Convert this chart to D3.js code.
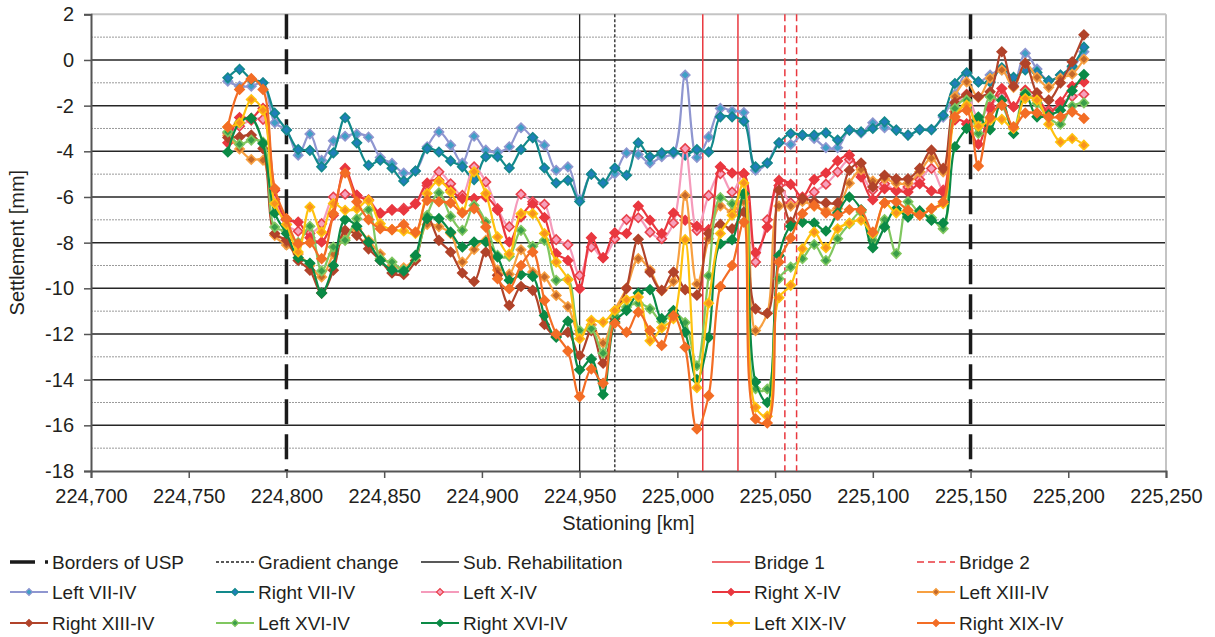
<!DOCTYPE html>
<html>
<head>
<meta charset="utf-8">
<style>
  body { margin: 0; background: #fff; }
  svg text { font-family: "Liberation Sans", Arial, sans-serif; fill: #231f20; }
</style>
</head>
<body>
<svg id="chart" width="1215" height="637"></svg>
<script src="https://d3js.org/d3.v7.min.js"></script>
<script>
// stationing of the measuring points [m]
var stations = [224770,224776,224782,224788,224794,224800,224806,224812,224818,224824,
  224830,224836,224842,224848,224854,224860,224866,224872,224878,224884,
  224890,224896,224902,224908,224914,224920,224926,224932,224938,224944,
  224950,224956,224962,224968,224974,224980,224986,224992,224998,225004,
  225010,225016,225022,225028,225034,225040,225046,225052,225058,225064,
  225070,225076,225082,225088,225094,225100,225106,225112,225118,225124,
  225130,225136,225142,225148,225154,225160,225166,225172,225178,225184,
  225190,225196,225202,225208];

var leftVII = [-0.93,-1.15,-1.15,-1.0,-2.75,-3.07,-4.17,-3.24,-4.39,-3.54,
  -3.34,-3.24,-3.38,-4.27,-4.53,-4.95,-4.86,-3.8,-3.15,-3.73,
  -4.51,-3.34,-3.95,-4.03,-3.8,-2.97,-3.4,-3.73,-4.83,-4.68,
  -6.1,-5.0,-5.39,-4.98,-4.07,-4.14,-4.51,-4.24,-4.1,-0.66,
  -4.27,-3.37,-2.12,-2.24,-2.3,-4.83,-4.51,-3.63,-3.7,-3.29,
  -3.44,-3.84,-3.84,-3.07,-3.2,-2.75,-2.97,-3.07,-3.29,-3.05,
  -3.05,-2.5,-1.5,-0.6,-0.96,-0.66,-0.44,-1.03,0.29,-0.4,
  -0.91,-0.66,-0.35,0.36];
var rightVII = [-0.78,-0.41,-0.85,-1.0,-2.33,-3.07,-3.92,-3.96,-4.68,-4.07,
  -2.53,-3.63,-4.61,-4.39,-4.74,-5.3,-4.86,-3.88,-4.03,-4.42,
  -4.68,-5.24,-4.24,-4.24,-4.73,-3.92,-3.4,-4.73,-5.39,-5.27,
  -6.2,-5.0,-5.39,-4.73,-5.05,-3.63,-4.24,-4.07,-4.03,-4.17,
  -3.92,-4.03,-2.49,-2.49,-2.68,-4.68,-4.51,-3.63,-3.22,-3.29,
  -3.29,-3.19,-3.51,-3.07,-3.15,-3.0,-2.71,-3.07,-3.29,-3.05,
  -3.05,-2.42,-1.03,-0.56,-0.96,-0.96,-0.34,-0.76,-0.44,-0.55,
  -0.91,-0.66,-0.27,0.56];
var leftX = [-3.2,-2.9,-2.64,-2.6,-6.1,-7.2,-7.5,-7.6,-7.17,-6.0,
  -5.88,-5.93,-6.12,-6.7,-6.55,-6.5,-6.3,-5.5,-4.9,-5.42,
  -5.93,-4.68,-5.34,-6.51,-7.3,-5.88,-6.21,-6.32,-7.87,-8.09,
  -9.44,-8.19,-8.66,-7.83,-6.99,-6.91,-7.54,-7.83,-7.14,-3.88,
  -7.46,-5.93,-4.98,-5.78,-4.98,-8.85,-7.0,-5.5,-6.26,-6.15,
  -5.78,-5.44,-4.9,-4.36,-4.98,-5.7,-5.42,-5.74,-5.56,-5.24,
  -4.75,-5.7,-2.27,-1.5,-2.56,-2.02,-1.58,-2.05,-1.5,-1.7,
  -2.2,-1.9,-1.6,-1.5];
var rightX = [-3.63,-2.52,-2.56,-2.12,-5.7,-7.0,-7.1,-7.78,-7.97,-6.8,
  -4.75,-5.93,-6.15,-6.73,-6.58,-6.58,-6.29,-5.39,-5.27,-5.7,
  -6.07,-6.07,-6.0,-6.58,-7.97,-6.87,-6.32,-6.9,-8.48,-8.78,
  -10.02,-7.78,-8.66,-7.57,-7.6,-6.4,-7.02,-7.6,-6.7,-7.02,
  -7.28,-7.43,-4.68,-4.95,-4.98,-8.44,-7.32,-5.27,-5.45,-6.0,
  -5.24,-4.95,-4.42,-4.17,-5.12,-6.12,-5.64,-5.7,-5.78,-5.42,
  -5.74,-5.78,-2.63,-2.8,-3.69,-2.12,-1.25,-2.05,-1.32,-1.6,
  -2.32,-1.83,-1.15,-0.96];
var leftXIII = [-3.3,-3.9,-4.36,-4.39,-7.68,-8.1,-8.5,-9.0,-9.5,-8.5,
  -7.8,-7.4,-7.9,-8.5,-9.0,-9.1,-8.6,-7.2,-7.3,-7.6,
  -8.85,-8.3,-7.9,-9.2,-9.38,-8.31,-9.29,-9.5,-10.31,-10.8,
  -12.0,-11.6,-12.4,-10.97,-10.0,-8.7,-9.2,-10.1,-9.7,-5.93,
  -9.81,-7.83,-6.39,-6.66,-6.21,-11.85,-11.1,-6.4,-6.4,-6.2,
  -6.4,-6.6,-6.5,-5.4,-4.8,-5.3,-5.2,-5.4,-5.4,-4.9,
  -4.3,-4.9,-1.6,-0.96,-1.64,-0.8,-0.44,-1.2,-0.15,-0.76,
  -1.2,-0.8,-0.62,0.03];
var rightXIII = [-3.4,-3.37,-3.29,-3.88,-7.6,-7.9,-8.78,-9.21,-10.21,-9.21,
  -7.46,-7.68,-8.27,-8.78,-9.33,-9.39,-8.78,-6.87,-7.9,-8.41,
  -9.33,-9.7,-8.41,-9.43,-10.75,-9.92,-10.09,-11.58,-12.1,-11.92,
  -12.94,-11.85,-13.28,-11.33,-10.0,-7.85,-9.29,-10.09,-9.29,-10.06,
  -10.3,-7.6,-7.2,-7.39,-6.66,-10.9,-11.09,-5.7,-7.1,-6.07,
  -6.21,-6.26,-6.26,-4.83,-4.51,-5.56,-5.05,-5.2,-5.2,-4.75,
  -3.95,-4.75,-1.87,-1.54,-1.61,-1.39,0.36,-1.15,-0.15,-1.44,
  -1.76,-1.0,-0.08,1.1];
var leftXVI = [-3.15,-3.69,-3.51,-3.6,-7.32,-7.5,-8.0,-7.28,-9.24,-8.19,
  -7.9,-6.95,-6.56,-8.7,-8.85,-9.19,-8.63,-6.8,-5.82,-6.85,
  -7.46,-6.37,-7.1,-8.56,-8.6,-7.46,-8.16,-7.9,-9.65,-9.6,
  -11.85,-11.77,-12.84,-11.2,-10.82,-10.65,-10.9,-11.45,-11.1,-11.5,
  -13.39,-9.45,-6.03,-6.3,-5.9,-14.4,-14.41,-9.58,-9.07,-8.7,
  -8.08,-8.78,-7.83,-7.17,-6.66,-7.9,-6.99,-8.48,-6.21,-6.73,
  -6.91,-7.39,-2.12,-1.76,-3.22,-1.61,-1.98,-3.0,-1.44,-1.9,
  -2.52,-2.81,-2.02,-1.88];
var rightXVI = [-4.03,-2.75,-2.56,-3.66,-6.7,-7.6,-8.66,-8.9,-10.21,-9.0,
  -6.99,-7.28,-7.97,-8.78,-9.19,-9.24,-8.56,-6.95,-6.95,-7.54,
  -8.19,-7.97,-7.97,-8.63,-9.65,-9.4,-9.48,-11.19,-12.14,-11.44,
  -13.57,-13.1,-14.65,-11.48,-10.97,-10.21,-10.06,-11.33,-10.97,-11.92,
  -14.0,-12.15,-8.05,-7.87,-5.85,-14.1,-15.0,-8.56,-7.28,-7.1,
  -7.14,-7.49,-6.7,-6.0,-6.56,-8.22,-7.32,-6.51,-6.88,-6.61,
  -7.02,-7.14,-3.8,-3.0,-2.5,-3.05,-1.76,-3.22,-1.5,-2.49,
  -2.4,-2.2,-1.35,-0.64];
var leftXIX = [-2.93,-2.75,-1.73,-2.2,-6.29,-7.2,-8.41,-6.44,-7.54,-6.29,
  -6.58,-6.51,-6.15,-7.17,-7.43,-7.49,-7.6,-5.85,-5.31,-5.78,
  -6.66,-4.9,-5.85,-7.75,-8.5,-6.73,-6.73,-7.6,-8.85,-9.62,
  -12.21,-11.4,-11.48,-10.97,-10.5,-10.38,-12.3,-11.73,-11.33,-7.87,
  -14.35,-10.65,-7.6,-6.8,-5.39,-15.21,-15.6,-10.41,-9.87,-8.27,
  -7.54,-8.22,-7.39,-7.14,-7.02,-7.6,-6.26,-6.7,-6.58,-6.8,
  -6.51,-6.29,-2.5,-1.98,-2.9,-2.64,-2.6,-3.0,-1.69,-1.76,
  -2.81,-3.59,-3.44,-3.73];
var rightXIX = [-2.93,-1.29,-0.82,-1.29,-5.63,-6.95,-8.05,-8.0,-8.7,-6.73,
  -4.95,-6.21,-6.99,-7.39,-7.43,-7.2,-7.54,-6.15,-6.21,-6.26,
  -6.7,-6.51,-7.32,-9.58,-10.02,-9.0,-8.41,-10.53,-12.0,-12.75,
  -14.74,-13.53,-14.16,-11.53,-11.92,-11.04,-11.85,-12.5,-11.19,-12.58,
  -16.16,-14.7,-9.92,-9.0,-7.1,-15.72,-15.9,-8.85,-7.8,-6.73,
  -6.37,-6.7,-6.8,-6.56,-6.58,-7.54,-6.26,-6.21,-6.58,-6.8,
  -6.51,-6.21,-2.49,-2.2,-4.64,-2.52,-1.98,-2.93,-2.33,-2.32,
  -2.5,-2.49,-2.27,-2.56];

var seriesNames = ["Left VII-IV","Right VII-IV","Left X-IV","Right X-IV","Left XIII-IV",
  "Right XIII-IV","Left XVI-IV","Right XVI-IV","Left XIX-IV","Right XIX-IV"];
var seriesValues = [leftVII, rightVII, leftX, rightX, leftXIII, rightXIII, leftXVI, rightXVI, leftXIX, rightXIX];
var lineColors   = ["#8f96d0","#12898b","#f59bbb","#e9373f","#f7a041","#b1432a","#80c760","#0b8a46","#ffc20f","#f36d25"];
var markerFills  = ["#3f9fc6","#1f7fb9","#f7a1bd","#e9373f","#c4692a","#b1432a","#3b9e4a","#0b8a46","#f8921f","#f36d25"];
var markerEdges  = ["#8f96d0","#12898b","#e9424b","#e9373f","#f7a041","#b1432a","#80c760","#0b8a46","#ffc20f","#f36d25"];

// vertical reference lines [m]
var borderStations = [224800, 225150];
var gradientStations = [224968];
var rehabStations = [224950];
var bridge1Stations = [225013, 225031];
var bridge2Stations = [225055, 225061];

var xTicks = [224700,224750,224800,224850,224900,224950,225000,225050,225100,225150,225200,225250];
var yTicks = [-18,-16,-14,-12,-10,-8,-6,-4,-2,0,2];
var yMinor = [-17,-15,-13,-11,-9,-7,-5,-3,-1,1];

var svg = d3.select("#chart");
var plot = {left: 91, right: 1166, top: 14.3, bottom: 471};

var x = d3.scaleLinear().domain([224700, 225250]).range([plot.left, plot.right]);
var y = d3.scaleLinear().domain([-18, 2]).range([plot.bottom, plot.top]);
var fmt = d3.format(",");

// grid
svg.append("g").selectAll("line").data(yMinor).enter().append("line")
  .attr("x1", plot.left).attr("x2", plot.right)
  .attr("y1", function(d) { return y(d); }).attr("y2", function(d) { return y(d); })
  .attr("stroke", "#9a9a9a").attr("stroke-width", 1).attr("stroke-dasharray", "2,1");
svg.append("g").selectAll("line").data(yTicks.filter(function(d) { return d > -18 && d < 2; })).enter().append("line")
  .attr("x1", plot.left).attr("x2", plot.right)
  .attr("y1", function(d) { return y(d); }).attr("y2", function(d) { return y(d); })
  .attr("stroke", "#262626").attr("stroke-width", 1.5);

// frame: light top/right, dark axes
svg.append("line").attr("x1", plot.left).attr("x2", plot.right).attr("y1", y(2)).attr("y2", y(2))
  .attr("stroke", "#c4c4c4").attr("stroke-width", 2);
svg.append("line").attr("x1", plot.right).attr("x2", plot.right).attr("y1", y(2)).attr("y2", y(-18))
  .attr("stroke", "#c4c4c4").attr("stroke-width", 2);

var yAxis = svg.append("g").attr("transform", "translate(" + plot.left + ",0)")
  .call(d3.axisLeft(y).tickValues(yTicks).tickSize(7).tickPadding(10)
    .tickFormat(function(d) { return String(d); }));
var xAxis = svg.append("g").attr("transform", "translate(0," + plot.bottom + ")")
  .call(d3.axisBottom(x).tickValues(xTicks).tickSize(7).tickPadding(11).tickFormat(fmt));
[yAxis, xAxis].forEach(function(a) {
  a.select(".domain").attr("stroke", "#555").attr("stroke-width", 2);
  a.selectAll(".tick line").attr("stroke", "#555").attr("stroke-width", 1.5);
  a.selectAll("text").attr("font-size", "20px").attr("fill", "#231f20")
    .attr("font-family", "'Liberation Sans', Arial, sans-serif");
});
xAxis.selectAll("text").attr("dy", "0.72em");

// reference lines
function vlines(data, color, width, dash) {
  svg.append("g").selectAll("line").data(data).enter().append("line")
    .attr("x1", function(d) { return x(d); }).attr("x2", function(d) { return x(d); })
    .attr("y1", y(2)).attr("y2", y(-18))
    .attr("stroke", color).attr("stroke-width", width)
    .attr("stroke-dasharray", dash);
}
vlines(rehabStations, "#222", 1.3, null);
vlines(gradientStations, "#222", 1.3, "3,2");
vlines(bridge1Stations, "#e9383f", 1.5, null);
vlines(bridge2Stations, "#e9383f", 1.5, "7,4");
vlines(borderStations, "#1a1a1a", 3.5, "25,10");

// series
var line = d3.line()
  .x(function(d, i) { return x(stations[i]); })
  .y(function(d) { return y(d); })
  .curve(d3.curveCatmullRom);
var diamond = d3.symbol().type(d3.symbolSquare).size(44);

seriesValues.forEach(function(vals, k) {
  var g = svg.append("g").attr("class", "series");
  g.append("path").attr("d", line(vals))
    .attr("fill", "none").attr("stroke", lineColors[k]).attr("stroke-width", 2.2);
  g.selectAll("path.m").data(vals).enter().append("path").attr("class", "m")
    .attr("d", diamond)
    .attr("transform", function(d, i) { return "translate(" + x(stations[i]) + "," + y(d) + ") rotate(45)"; })
    .attr("fill", markerFills[k]).attr("stroke", markerEdges[k]).attr("stroke-width", 1.6);
});

// axis titles
svg.append("text").attr("x", (plot.left + plot.right) / 2).attr("y", 530)
  .attr("text-anchor", "middle").attr("font-size", "20px").text("Stationing [km]");
svg.append("text").attr("transform", "translate(24," + (plot.top + plot.bottom) / 2 + ") rotate(-90)")
  .attr("text-anchor", "middle").attr("font-size", "20px").text("Settlement [mm]");

// legend
var legendCols = [10, 216, 421, 712, 917];
var legendRows = [562, 592, 623];
var refItems = [
  {name: "Borders of USP", color: "#1a1a1a", width: 3.5, dash: "25,10"},
  {name: "Gradient change", color: "#222", width: 1.3, dash: "3,2"},
  {name: "Sub. Rehabilitation", color: "#222", width: 1.3, dash: null},
  {name: "Bridge 1", color: "#e9383f", width: 1.5, dash: null},
  {name: "Bridge 2", color: "#e9383f", width: 1.5, dash: "7,4"}
];
var items = refItems.concat(seriesNames.map(function(n, k) {
  return {name: n, color: lineColors[k], width: 2, dash: null, marker: k};
}));
var leg = svg.append("g").selectAll("g").data(items).enter().append("g")
  .attr("transform", function(d, i) { return "translate(" + legendCols[i % 5] + "," + legendRows[Math.floor(i / 5)] + ")"; });
leg.append("line").attr("x1", 0).attr("x2", 38).attr("y1", 0).attr("y2", 0)
  .attr("stroke", function(d) { return d.color; })
  .attr("stroke-width", function(d) { return d.width; })
  .attr("stroke-dasharray", function(d) { return d.dash; });
leg.filter(function(d) { return d.marker !== undefined; }).append("path")
  .attr("d", d3.symbol().type(d3.symbolSquare).size(24))
  .attr("transform", "translate(19,0) rotate(45)")
  .attr("fill", function(d) { return markerFills[d.marker]; })
  .attr("stroke", function(d) { return markerEdges[d.marker]; })
  .attr("stroke-width", 1.2);
leg.append("text").attr("x", 42).attr("y", 0).attr("dy", "0.35em")
  .attr("font-size", "19px").text(function(d) { return d.name; });
</script>
</body>
</html>
